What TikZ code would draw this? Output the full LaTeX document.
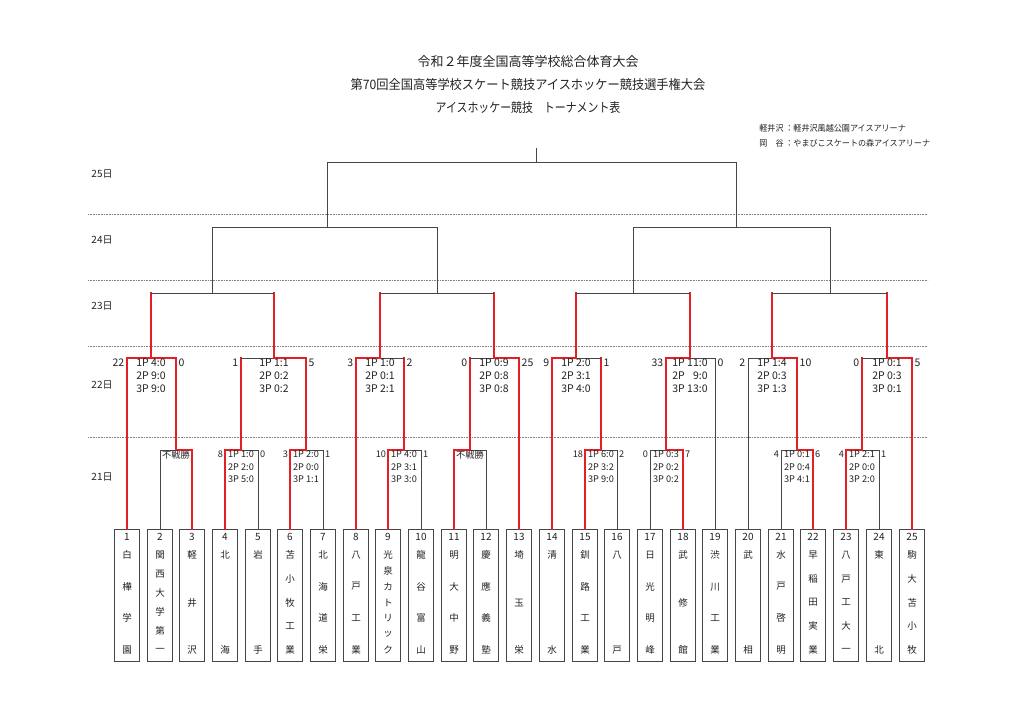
\documentclass[tikz,border=0pt]{standalone}
\usepackage{fontspec}
\setmainfont{Noto Sans CJK JP}
\usetikzlibrary{calc}
\definecolor{hockeyred}{RGB}{226,32,38}
\definecolor{linegray}{RGB}{70,70,70}
\definecolor{textgray}{RGB}{35,35,35}
% one leg of the bracket: vertical part, then horizontal part
\newcommand\leg[4]{\draw[#1] (#3) -- (#3 |- #4); \draw[#2] (#3 |- #4) -- (#4);}
\begin{document}
\begin{tikzpicture}[x=1pt,y=-1pt,
	win/.style={draw=hockeyred, line width=2pt, line cap=rect},
	lose/.style={draw=linegray, line width=1pt},
	dayline/.style={draw=gray, line width=0.6pt, densely dotted},
	teambox/.style={draw=linegray, line width=1pt, minimum width=25pt, minimum height=132pt, inner sep=0pt},
	teamch/.style={font=\fontsize{9.5}{10}\selectfont, text=textgray, inner sep=0pt},
	score/.style={font=\fontsize{10.5}{13}\selectfont, text=textgray, align=center, inner sep=0.5pt, inner xsep=2.5pt},
	smallscore/.style={font=\fontsize{9.2}{12.7}\selectfont, text=textgray, align=center, inner sep=0.5pt, inner xsep=1.8pt},
	daylabel/.style={font=\fontsize{10}{11}\selectfont, text=textgray}]

	\fill[white] (0,0) rectangle (1024,724);
	\useasboundingbox (0,0) rectangle (1024,724);

	% titles
	\node[font=\fontsize{13}{14}\selectfont, text=textgray] (title1) at (528,62) {令和２年度全国高等学校総合体育大会};
	\node[font=\fontsize{13}{14}\selectfont, text=textgray, xscale=0.94] (title2) at (528,85) {第70回全国高等学校スケート競技アイスホッケー競技選手権大会};
	\node[font=\fontsize{13}{14}\selectfont, text=textgray, xscale=0.84] (title3) at (528,108) {アイスホッケー競技　トーナメント表};
	\node[anchor=west, font=\fontsize{8.5}{9}\selectfont, text=textgray, xscale=0.95] (venue1) at (756,128) {軽井沢\ ：軽井沢風越公園アイスアリーナ};
	\node[anchor=west, font=\fontsize{8.5}{9}\selectfont, text=textgray, xscale=0.95] (venue2) at (756,143) {岡　谷\ ：やまびこスケートの森アイスアリーナ};

	% days
	\foreach \yy in {214,280,346,437}
		\draw[dayline] (88,\yy) -- (928,\yy);
	\node[daylabel] (d25) at (102,174) {25日};
	\node[daylabel] (d24) at (102,240) {24日};
	\node[daylabel] (d23) at (102,306) {23日};
	\node[daylabel] (d22) at (102,385) {22日};
	\node[daylabel] (d21) at (102,477) {21日};

	% teams
	\foreach \i/\k/\name in {1/4/{白,樺,学,園}, 2/6/{関,西,大,学,第,一}, 3/3/{軽,井,沢},
		4/2/{北,海}, 5/2/{岩,手}, 6/5/{苫,小,牧,工,業}, 7/4/{北,海,道,栄},
		8/4/{八,戸,工,業}, 9/7/{光,泉,カ,ト,リ,ッ,ク}, 10/4/{龍,谷,富,山},
		11/4/{明,大,中,野}, 12/4/{慶,應,義,塾}, 13/3/{埼,玉,栄}, 14/2/{清,水},
		15/4/{釧,路,工,業}, 16/2/{八,戸}, 17/4/{日,光,明,峰}, 18/3/{武,修,館},
		19/4/{渋,川,工,業}, 20/2/{武,相}, 21/4/{水,戸,啓,明}, 22/5/{早,稲,田,実,業},
		23/5/{八,戸,工,大,一}, 24/2/{東,北}, 25/5/{駒,大,苫,小,牧}}{
		\pgfmathsetmacro\xx{round(126.8+(\i-1)*32.7)}
		\node[teambox] (t\i) at (\xx,595.5) {};
		\node[font=\fontsize{10}{10}\selectfont, text=textgray, inner sep=0pt] (n\i) at (\xx,536.5) {\i};
		\foreach \ch [count=\j] in \name {
			\pgfmathsetmacro\yy{555+(\j-1)*95/(\k-1)}
			\node[teamch] (t\i-\j) at (\xx,\yy) {\ch};
		}
	}

	% bracket points
	\coordinate (m23) at (176,450);
	\coordinate (m45) at (241,450);
	\coordinate (m67) at (306,450);
	\coordinate (m910) at (404,450);
	\coordinate (m1112) at (470,450);
	\coordinate (m1516) at (601,450);
	\coordinate (m1718) at (666,450);
	\coordinate (m2122) at (797,450);
	\coordinate (m2324) at (862,450);
	\coordinate (q1) at (151,358);
	\coordinate (q2) at (274,358);
	\coordinate (q3) at (380,358);
	\coordinate (q4) at (494,358);
	\coordinate (q5) at (576,358);
	\coordinate (q6) at (690,358);
	\coordinate (q7) at (772,358);
	\coordinate (q8) at (887,358);
	\coordinate (s1) at (212,293);
	\coordinate (s2) at (437,293);
	\coordinate (s3) at (633,293);
	\coordinate (s4) at (830,293);
	\coordinate (f1) at (327,227);
	\coordinate (f2) at (736,227);
	\coordinate (z) at (536,162);
	\coordinate (top) at (536,148);

	% 21
	\leg{lose}{lose}{t2.north}{m23} \leg{win}{win}{t3.north}{m23}
	\leg{lose}{lose}{t5.north}{m45} \leg{win}{win}{t4.north}{m45}
	\leg{lose}{lose}{t7.north}{m67} \leg{win}{win}{t6.north}{m67}
	\leg{lose}{lose}{t10.north}{m910} \leg{win}{win}{t9.north}{m910}
	\leg{lose}{lose}{t12.north}{m1112} \leg{win}{win}{t11.north}{m1112}
	\leg{lose}{lose}{t16.north}{m1516} \leg{win}{win}{t15.north}{m1516}
	\leg{lose}{lose}{t17.north}{m1718} \leg{win}{win}{t18.north}{m1718}
	\leg{lose}{lose}{t21.north}{m2122} \leg{win}{win}{t22.north}{m2122}
	\leg{lose}{lose}{t24.north}{m2324} \leg{win}{win}{t23.north}{m2324}

	% 22
	\leg{win}{win}{m23}{q1} \leg{win}{win}{t1.north}{q1}
	\leg{win}{lose}{m45}{q2} \leg{win}{win}{m67}{q2}
	\leg{win}{lose}{m910}{q3} \leg{win}{win}{t8.north}{q3}
	\leg{win}{lose}{m1112}{q4} \leg{win}{win}{t13.north}{q4}
	\leg{win}{lose}{m1516}{q5} \leg{win}{win}{t14.north}{q5}
	\leg{lose}{lose}{t19.north}{q6} \leg{win}{win}{m1718}{q6}
	\leg{lose}{lose}{t20.north}{q7} \leg{win}{win}{m2122}{q7}
	\leg{win}{lose}{m2324}{q8} \leg{win}{win}{t25.north}{q8}

	% 23 - 25
	\foreach \a/\b in {q1/s1,q2/s1,q3/s2,q4/s2,q5/s3,q6/s3,q7/s4,q8/s4}{
		\leg{win}{lose}{\a}{\b}
	}
	\foreach \a/\b in {s1/f1,s2/f1,s3/f2,s4/f2,f1/z,f2/z}{
		\leg{lose}{lose}{\a}{\b}
	}
	\draw[lose] (z) -- (top);

	% scores, 22
	\foreach \mm/\lc/\rc/\ls/\rs/\pa/\pb/\pc [count=\k] in {
		q1/t1.north/m23/22/0/1P 4:0/2P 9:0/3P 9:0,
		q2/m45/m67/1/5/1P 1:1/2P 0:2/3P 0:2,
		q3/t8.north/m910/3/2/1P 1:0/2P 0:1/3P 2:1,
		q4/m1112/t13.north/0/25/1P 0:9/2P 0:8/3P 0:8,
		q5/t14.north/m1516/9/1/1P 2:0/2P 3:1/3P 4:0,
		q6/m1718/t19.north/33/0/1P 11:0/2P \phantom{1}9:0/3P 13:0,
		q7/t20.north/m2122/2/10/1P 1:4/2P 0:3/3P 1:3,
		q8/m2324/t25.north/0/5/1P 0:1/2P 0:3/3P 0:1}{
		\node[score, anchor=north] (sc\k) at (\mm) {\pa\\\pb\\\pc};
		\node[score, anchor=north east] (sl\k) at (\lc |- \mm) {\ls};
		\node[score, anchor=north west] (sr\k) at (\rc |- \mm) {\rs};
	}

	% scores, 21
	\foreach \mm/\lc/\rc/\ls/\rs/\pa/\pb/\pc [count=\k] in {
		m45/t4/t5/8/0/1P 1:0/2P 2:0/3P 5:0,
		m67/t6/t7/3/1/1P 2:0/2P 0:0/3P 1:1,
		m910/t9/t10/10/1/1P 4:0/2P 3:1/3P 3:0,
		m1516/t15/t16/18/2/1P 6:0/2P 3:2/3P 9:0,
		m1718/t17/t18/0/7/1P 0:3/2P 0:2/3P 0:2,
		m2122/t21/t22/4/6/1P 0:1/2P 0:4/3P 4:1,
		m2324/t23/t24/4/1/1P 2:1/2P 0:0/3P 2:0}{
		\node[smallscore, anchor=north] (tc\k) at (\mm) {\pa\\\pb\\\pc};
		\node[smallscore, anchor=north east] (tl\k) at (\lc.north |- \mm) {\ls};
		\node[smallscore, anchor=north west] (tr\k) at (\rc.north |- \mm) {\rs};
	}
	\node[smallscore, anchor=north] (bye1) at (m23) {不戦勝};
	\node[smallscore, anchor=north] (bye2) at (m1112) {不戦勝};

\end{tikzpicture}
\end{document}
